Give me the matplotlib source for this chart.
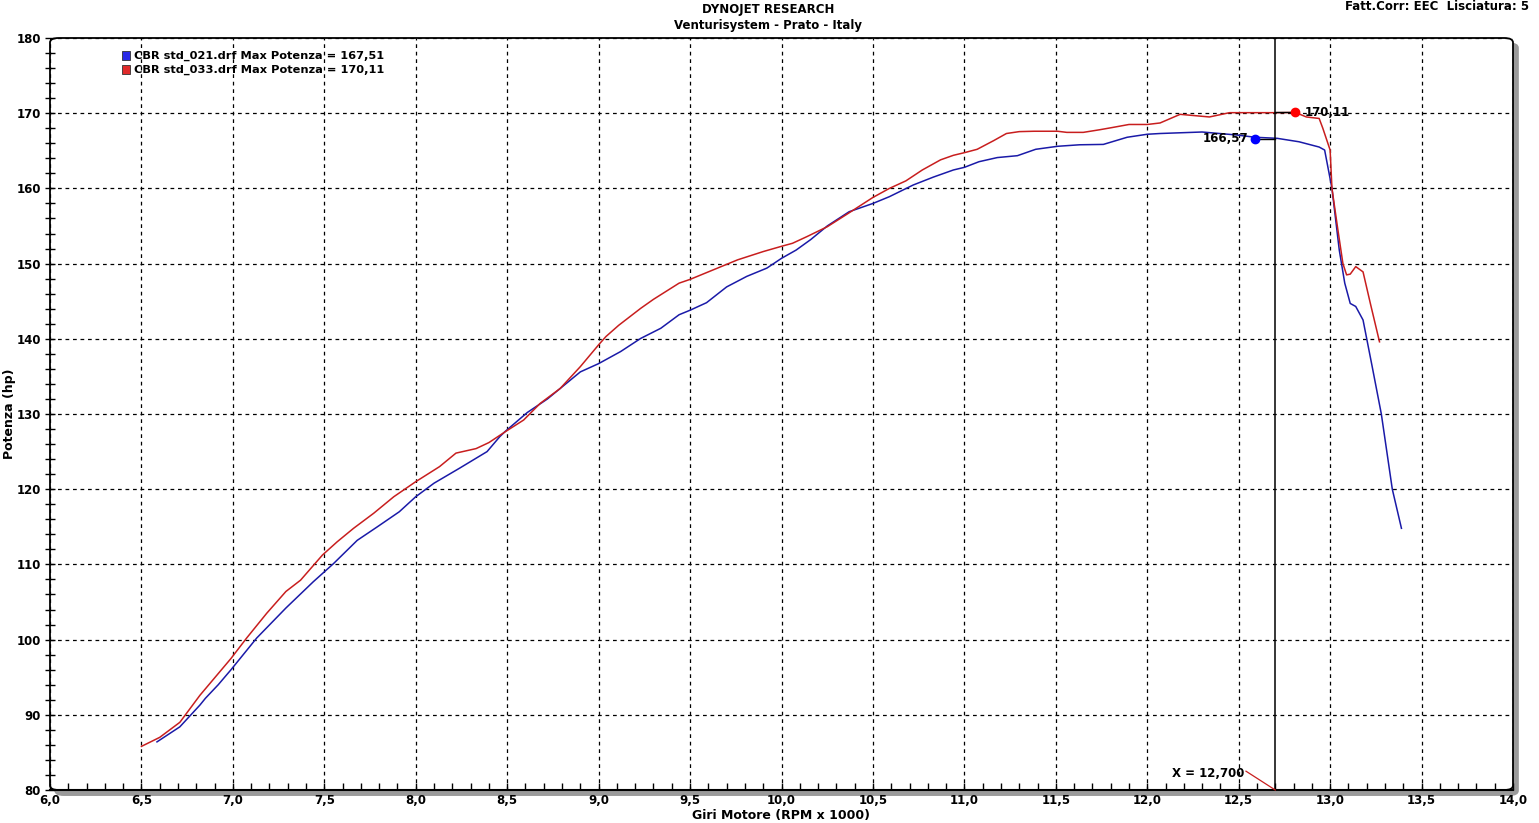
import matplotlib.pyplot as plt
from matplotlib.patches import FancyBboxPatch, Rectangle

# Colori delle curve
BLUE_COLOR = '#1a1aa8'
RED_COLOR = '#c81e1e'

rpm_021 = [6.585, 6.71, 6.82, 6.85, 6.92, 6.99, 7.13, 7.29, 7.44, 7.55, 7.68, 7.79, 7.91,
           8.00, 8.10, 8.24, 8.39, 8.46, 8.49, 8.61, 8.72, 8.90, 9.00, 9.12, 9.23, 9.34,
           9.44, 9.50, 9.59, 9.70, 9.81, 9.92, 10.00, 10.08, 10.16, 10.25, 10.37, 10.50,
           10.59, 10.72, 10.83, 10.94, 11.00, 11.08, 11.18, 11.29, 11.39, 11.51, 11.63,
           11.76, 11.89, 12.00, 12.07, 12.30, 12.49, 12.59, 12.71, 12.83, 12.94, 12.97,
           13.01, 13.05, 13.08, 13.11, 13.14, 13.18, 13.23, 13.28, 13.34, 13.39]
hp_021 = [86.4, 88.4, 91.3, 92.2, 94.0, 96.0, 100.2, 104.2, 107.7, 110.1, 113.2, 115.0, 117.0,
          119.0, 120.8, 122.8, 125.0, 127.0, 127.7, 130.2, 132.0, 135.6, 136.7, 138.3, 140.05, 141.4,
          143.2, 143.8, 144.8, 146.9, 148.3, 149.4, 150.7, 151.8, 153.2, 155.0, 156.9, 158.0,
          158.9, 160.45, 161.5, 162.45, 162.8, 163.55, 164.1, 164.35, 165.2, 165.6, 165.8,
          165.85, 166.8, 167.2, 167.3, 167.5, 167.1, 166.8, 166.66, 166.2, 165.5, 165.1,
          160.0, 151.8, 147.4, 144.7, 144.3, 142.5, 136.3, 130.0, 120.0, 114.8]

rpm_033 = [6.50, 6.60, 6.71, 6.82, 6.99, 7.075, 7.185, 7.29, 7.37, 7.49, 7.57, 7.66, 7.77,
           7.88, 8.00, 8.13, 8.22, 8.33, 8.40, 8.49, 8.59, 8.68, 8.79, 8.90, 9.00, 9.04,
           9.11, 9.23, 9.30, 9.44, 9.50, 9.63, 9.76, 9.90, 10.00, 10.06, 10.14, 10.25,
           10.36, 10.43, 10.50, 10.59, 10.68, 10.77, 10.87, 10.94, 11.00, 11.07, 11.16,
           11.23, 11.30, 11.38, 11.51, 11.56, 11.65, 11.74, 11.81, 11.90, 12.00, 12.07,
           12.18, 12.34, 12.45, 12.71, 12.81, 12.87, 12.94, 12.96, 13.00, 13.01, 13.04,
           13.07, 13.09, 13.11, 13.14, 13.18, 13.22, 13.27]
hp_033 = [85.8, 87.0, 89.0, 92.6, 97.5, 100.2, 103.5, 106.4, 107.9, 111.25, 113.0, 114.8, 116.8,
          119.0, 121.0, 123.0, 124.8, 125.4, 126.2, 127.65, 129.2, 131.4, 133.4, 136.3, 139.2, 140.3,
          141.8, 144.05, 145.25, 147.4, 147.9, 149.2, 150.5, 151.6, 152.3, 152.7, 153.6, 154.9,
          156.6, 157.7, 158.8, 160.0, 161.0, 162.45, 163.8, 164.4, 164.75, 165.2, 166.35,
          167.3, 167.55, 167.6, 167.6, 167.45, 167.45, 167.8, 168.1, 168.5, 168.5, 168.7,
          169.85, 169.5, 170.07, 170.07, 170.1, 169.5, 169.3, 168.0, 165.1, 160.0, 154.9,
          150.0, 148.5, 148.6, 149.6, 148.9, 144.7, 139.6]

legend_labels = ['CBR std_021.drf Max Potenza = 167,51', 'CBR std_033.drf Max Potenza = 170,11']
marker_021 = (12.59, 166.57)
marker_033 = (12.81, 170.11)
cursor_x = 12.7

x_ticks = [6.0 + 0.5 * i for i in range(17)]
y_ticks = list(range(80, 181, 10))

fig = plt.figure(figsize=(15.39, 8.23), dpi=100)
ax = fig.add_axes([50 / 1539, 1 - 790 / 823, 1463 / 1539, 752 / 823])
ax.set_xlim(6.0, 14.0)
ax.set_ylim(80, 180)
ax.patch.set_visible(False)
for s in ax.spines.values():
    s.set_visible(False)

# cornice con ombra grigia
shadow = FancyBboxPatch((0.0035, -0.007), 1.0, 1.0, boxstyle='round,pad=0,rounding_size=0.006',
                        transform=ax.transAxes, facecolor='#9a9a9a', edgecolor='#9a9a9a',
                        clip_on=False, zorder=0)
frame = FancyBboxPatch((0, 0), 1.0, 1.0, boxstyle='round,pad=0,rounding_size=0.006',
                       transform=ax.transAxes, facecolor='white', edgecolor='black', lw=1.3,
                       clip_on=False, zorder=0.5)
ax.add_patch(shadow)
ax.add_patch(frame)
ax.plot([0, 1], [0, 0], transform=ax.transAxes, color='black', lw=1.5, clip_on=False, zorder=3)

ax.set_xticks(x_ticks)
ax.set_xticklabels([('%.1f' % v).replace('.', ',') for v in x_ticks], fontweight='bold', fontsize=8.5)
ax.set_xticks([6.0 + 0.1 * i for i in range(81)], minor=True)
ax.set_yticks(y_ticks)
ax.set_yticklabels([str(v) for v in y_ticks], fontweight='bold', fontsize=8.5)
ax.set_yticks(list(range(80, 181, 2)), minor=True)
ax.tick_params(axis='x', which='both', direction='in', length=5, width=1, pad=3)
ax.tick_params(axis='y', which='both', direction='inout', length=7, width=1, pad=3)
ax.grid(True, which='major', color='black', linestyle=(0, (3, 3)), lw=0.9, zorder=1)
ax.set_axisbelow(False)

ax.plot(rpm_021, hp_021, color=BLUE_COLOR, lw=1.1, zorder=4)
ax.plot(rpm_033, hp_033, color=RED_COLOR, lw=1.1, zorder=4)

# cursore
ax.axvline(cursor_x, color='black', lw=1.1, zorder=5)
ax.plot([marker_021[0], cursor_x], [marker_021[1], marker_021[1]], color='black', lw=1, zorder=5)
ax.plot([cursor_x, marker_033[0]], [marker_033[1], marker_033[1]], color='black', lw=1, zorder=5)
ax.plot(*marker_021, 'o', color='#0000ff', ms=6, zorder=6)
ax.plot(*marker_033, 'o', color='#ff0000', ms=6, zorder=6)
ax.text(marker_021[0] - 0.04, marker_021[1], ('%.2f' % marker_021[1]).replace('.', ','),
        ha='right', va='center', fontweight='bold', fontsize=8.5, zorder=6)
ax.text(marker_033[0] + 0.05, marker_033[1], ('%.2f' % marker_033[1]).replace('.', ','),
        ha='left', va='center', fontweight='bold', fontsize=8.5, zorder=6)
ax.plot([12.54, cursor_x], [82.5, 80], color=RED_COLOR, lw=0.9, clip_on=False, zorder=5)
ax.text(12.53, 82.2, 'X = ' + ('%.3f' % cursor_x).replace('.', ','), ha='right', va='center',
        fontweight='bold', fontsize=8.5, zorder=6)

ax.set_xlabel('Giri Motore (RPM x 1000)', fontweight='bold', fontsize=9, labelpad=1)
ax.set_ylabel('Potenza (hp)', fontweight='bold', fontsize=9)
ax.yaxis.set_label_coords(-34 / 1463, 0.5)

# legenda
for i, (lab, col) in enumerate(zip(legend_labels, ['#2a2ae8', '#e02a2a'])):
    y0 = 1 - (60 + 14 * i) / 823
    fig.add_artist(Rectangle((122 / 1539, y0), 8 / 1539, 9 / 823, transform=fig.transFigure,
                             facecolor=col, edgecolor='#333333', lw=0.6))
    fig.text(134 / 1539, y0 + 4 / 823, lab, ha='left', va='center', fontweight='bold', fontsize=8.2)

fig.text(768 / 1539, 1 - 10 / 823, 'DYNOJET RESEARCH', ha='center', va='center',
         fontweight='bold', fontsize=8.5)
fig.text(768 / 1539, 1 - 26 / 823, 'Venturisystem - Prato - Italy', ha='center', va='center',
         fontweight='bold', fontsize=8.5)
fig.text(1529 / 1539, 1 - 7 / 823, 'Fatt.Corr: EEC  Lisciatura: 5', ha='right', va='center',
         fontweight='bold', fontsize=8.5)

plt.savefig('out.png', dpi=100)
plt.close()
